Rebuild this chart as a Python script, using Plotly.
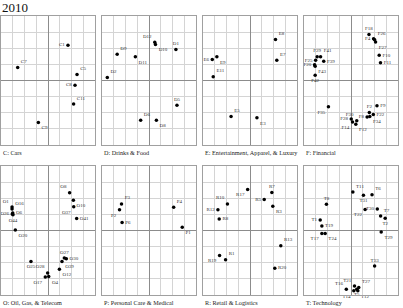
import plotly.graph_objects as go

W, H = 403, 308
FONT = "Liberation Serif"

chart_title = "2010"
panel_titles = ["C: Cars", "D: Drinks & Food", "E: Entertainment, Apparel, & Luxury", "F: Financial",
                "O: Oil, Gas, & Telecom", "P: Personal Care & Medical", "R: Retail & Logistics", "T: Technology"]

c_labels = ["C1", "C7", "C5", "C8", "C11", "C9"]
c_x = [1.70, -2.58, 2.47, 2.30, 2.18, -0.82]
c_y = [2.19, 0.80, 0.37, -0.29, -1.46, -2.60]
c_pos = ["middle left", "top right", "top right", "middle left", "top right", "bottom right"]

d_labels = ["D12", "D10", "D1", "D9", "D11", "D2", "D5", "D6", "D8"]
d_x = [0.49, 0.55, 2.29, -2.71, -1.16, -3.55, 2.38, -0.71, 0.63]
d_y = [2.37, 2.23, 1.92, 1.63, 1.48, 0.19, -1.53, -2.47, -2.47]
d_pos = ["top left", "bottom right", "top center", "top right", "bottom right", "top right", "top center", "top right", "bottom right"]

e_labels = ["E8", "E7", "E6", "E9", "E11", "E5", "E3"]
e_x = [2.17, 2.28, -3.21, -2.82, -3.13, -1.61, 0.59]
e_y = [2.54, 1.26, 1.30, 1.48, 0.23, -2.23, -2.31]
e_pos = ["top right", "top right", "middle left", "bottom right", "top right", "top right", "bottom right"]

f_labels = ["F18", "F4", "F26", "F27", "F10", "F11", "F29", "F41", "F39", "F25", "F20", "F43", "F42",
            "F35", "F28", "F30", "F14", "F12", "F2", "F9", "F8", "F22", "F34"]
f_x = [1.53, 1.92, 2.01, 2.09, 2.40, 2.51, -2.88, -2.59, -2.32, -3.01, -3.10, -3.05, -3.05,
       -1.92, 0.02, 0.49, 0.13, 0.41, 1.56, 2.21, 1.37, 1.90, 1.60]
f_y = [2.86, 2.59, 2.53, 2.39, 1.56, 1.10, 1.47, 1.47, 1.19, 1.25, 0.98, 0.88, 0.32,
       -1.63, -2.38, -2.50, -2.58, -2.71, -1.98, -1.57, -2.27, -2.11, -2.23]
f_pos = ["top center", "middle left", "top right", "bottom right", "middle right", "middle right", "top center",
         "top right", "middle right", "middle left", "middle left", "bottom right", "bottom center",
         "bottom left", "middle left", "top left", "bottom left", "bottom right", "top center", "middle right",
         "middle left", "middle right", "bottom right"]

o_labels = ["O8", "O10", "O37", "O41", "O1", "O16", "O6", "O26", "O44", "O20",
            "O25", "O28", "O17", "O4", "O12", "O27", "O30", "O39"]
o_x = [1.84, 2.16, 2.19, 2.44, -3.06, -3.06, -3.00, -3.04, -2.98, -2.78,
       -1.45, -0.03, -0.23, 0.06, 0.97, 1.39, 1.56, 1.19]
o_y = [2.34, 1.88, 1.48, 0.74, 1.45, 1.33, 1.08, 1.02, 0.97, 0.03,
       -1.92, -2.63, -2.89, -2.86, -2.41, -1.71, -1.75, -1.92]
o_pos = ["top left", "bottom right", "bottom left", "middle right", "top left", "top right", "middle right",
         "middle left", "bottom center", "bottom right", "bottom center", "top left", "bottom left",
         "bottom right", "bottom right", "top center", "middle right", "bottom right"]

p_labels = ["P3", "P2", "P6", "P4", "P1"]
p_x = [-2.34, -2.51, -2.29, 2.10, 2.83]
p_y = [1.65, 1.28, 0.49, 1.44, 0.20]
p_pos = ["top right", "bottom left", "middle right", "top right", "bottom right"]

r_labels = ["R17", "R7", "R5", "R3", "R10", "R12", "R8", "R13", "R1", "R19", "R20"]
r_x = [-0.20, 1.86, 1.21, 1.94, -1.92, -2.73, -2.62, 2.62, -2.08, -2.59, 2.11]
r_y = [2.54, 2.36, 1.92, 1.51, 1.65, 1.28, 0.72, -0.95, -1.82, -1.55, -2.34]
r_pos = ["bottom left", "top center", "middle left", "bottom right", "top left", "middle left", "middle right",
         "top right", "top right", "bottom left", "middle right"]

t_labels = ["T11", "T31", "T6", "T8", "T30", "T7", "T2", "T22", "T1", "T19", "T17", "T24", "T29", "T33",
            "T21", "T27", "T5", "T16", "T14", "T12"]
t_x = [0.16, 1.06, 1.79, -2.09, 2.24, 2.52, 2.91, 1.20, -2.62, -2.48, -2.48, -2.20, 2.57, 2.01,
       0.30, 0.66, 0.49, -0.40, 0.24, 0.58]
t_y = [2.38, 2.19, 2.21, 1.63, 1.34, 0.90, 0.76, 1.30, 0.65, 0.28, -0.18, -0.18, -0.10, -2.20,
       -3.44, -3.54, -3.65, -3.65, -3.73, -3.73]
t_pos = ["top right", "bottom center", "top right", "top center", "middle left", "top right", "bottom center",
         "bottom left", "middle left", "middle right", "bottom left", "bottom right", "bottom right", "top center",
         "top left", "top right", "bottom center", "top left", "bottom left", "bottom right"]

panels = [
    (c_labels, c_x, c_y, c_pos), (d_labels, d_x, d_y, d_pos),
    (e_labels, e_x, e_y, e_pos), (f_labels, f_x, f_y, f_pos),
    (o_labels, o_x, o_y, o_pos), (p_labels, p_x, p_y, p_pos),
    (r_labels, r_x, r_y, r_pos), (t_labels, t_x, t_y, t_pos),
]

# layout in pixels
col_left = [1, 102, 203, 304]
pw = 94
row_top = [16, 166]
ph = 129

fig = go.Figure()
annotations = []
layout_axes = {}
for i, (labs, xs, ys, pos) in enumerate(panels):
    r, c = divmod(i, 4)
    n = i + 1
    xa = "x" if n == 1 else f"x{n}"
    ya = "y" if n == 1 else f"y{n}"
    fig.add_trace(go.Scatter(
        x=xs, y=ys, text=labs, mode="markers+text", textposition=pos,
        marker=dict(color="black", size=3.5),
        textfont=dict(family=FONT, size=5, color="#333333"),
        cliponaxis=False, hoverinfo="text", showlegend=False,
        xaxis=xa, yaxis=ya))
    x0 = col_left[c] / W
    x1 = (col_left[c] + pw) / W
    y1 = 1 - row_top[r] / H
    y0 = 1 - (row_top[r] + ph) / H
    common = dict(range=[-4, 4], dtick=1, showgrid=True, gridcolor="#d4d4d4", gridwidth=1,
                  zeroline=True, zerolinecolor="#8c8c8c", zerolinewidth=1,
                  showline=True, linecolor="#a0a0a0", linewidth=1, mirror=True,
                  showticklabels=False, ticks="", fixedrange=True)
    layout_axes["xaxis" if n == 1 else f"xaxis{n}"] = dict(domain=[x0, x1], anchor=ya, **common)
    layout_axes["yaxis" if n == 1 else f"yaxis{n}"] = dict(domain=[y0, y1], anchor=xa, **common)
    annotations.append(dict(text=panel_titles[i], x=x0, y=y0 - 2 / H, xref="paper", yref="paper",
                            xanchor="left", yanchor="top", showarrow=False,
                            font=dict(family=FONT, size=6.2, color="#222222")))

annotations.append(dict(text=chart_title, x=0, y=1.005, xref="paper", yref="paper",
                        xanchor="left", yanchor="top", showarrow=False,
                        font=dict(family=FONT, size=13, color="#111111")))

fig.update_layout(width=W, height=H, margin=dict(l=0, r=0, t=0, b=0),
                  paper_bgcolor="white", plot_bgcolor="white",
                  annotations=annotations, **layout_axes)

fig.write_html("out.html")
